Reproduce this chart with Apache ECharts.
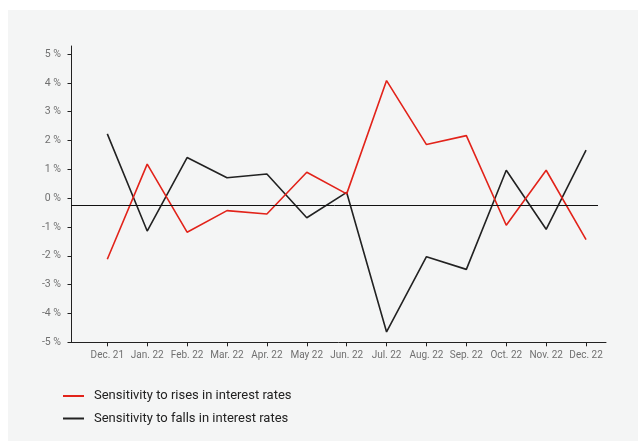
<!DOCTYPE html>
<html>
<head>
<meta charset="utf-8">
<script src="https://cdn.jsdelivr.net/npm/echarts@6/dist/echarts.min.js"></script>
<style>
  html, body { margin: 0; padding: 0; background: #ffffff; }
  #chart { width: 638px; height: 441px; }
</style>
</head>
<body>
<div id="chart"></div>
<script>
// Monthly interest-rate sensitivity, Dec. 21 – Dec. 22 (in %)
const categories = ['Dec. 21', 'Jan. 22', 'Feb. 22', 'Mar. 22', 'Apr. 22', 'May 22', 'Jun. 22',
                    'Jul. 22', 'Aug. 22', 'Sep. 22', 'Oct. 22', 'Nov. 22', 'Dec. 22'];
const risesSensitivity = [-2.12, 1.18, -1.18, -0.43, -0.55, 0.90, 0.15, 4.08, 1.86, 2.17, -0.94, 0.97, -1.44];
const fallsSensitivity = [2.23, -1.14, 1.41, 0.71, 0.84, -0.68, 0.20, -4.64, -2.03, -2.47, 0.97, -1.08, 1.67];
const yTicks = [-5, -4, -3, -2, -1, 0, 1, 2, 3, 4, 5];
const referenceLevel = -0.24;

const xIndex = categories.map((c, i) => i);
const toPoints = arr => arr.map((v, i) => [i, v]);

const chart = echarts.init(document.getElementById('chart'), null, { renderer: 'canvas' });

const FONT = 'Roboto, "Liberation Sans", sans-serif';

chart.setOption({
  animation: false,
  backgroundColor: '#ffffff',
  graphic: [{
    type: 'rect',
    left: 8, top: 10,
    shape: { width: 630, height: 431 },
    style: { fill: '#f4f5f5' },
    z: -10, silent: true
  }],
  grid: { left: 71, right: 32, top: 46, bottom: 98.7, containLabel: false },
  legend: {
    orient: 'vertical',
    left: 63, top: 389,
    padding: 0,
    itemWidth: 21, itemHeight: 2,
    itemGap: 8.5,
    icon: 'rect',
    textStyle: { color: '#222222', fontSize: 13, fontFamily: FONT, lineHeight: 14, padding: [0, 0, 0, 5] },
    data: ['Sensitivity to rises in interest rates', 'Sensitivity to falls in interest rates']
  },
  xAxis: {
    type: 'value',
    min: -0.91, max: 12.5,
    splitLine: { show: false },
    axisLine: { show: true, onZero: false, lineStyle: { color: '#222222', width: 1 } },
    axisTick: { show: true, customValues: xIndex, length: 4, inside: false, lineStyle: { color: '#222222' } },
    axisLabel: {
      customValues: xIndex,
      formatter: v => categories[Math.round(v)] || '',
      color: '#707070', fontSize: 10, fontFamily: FONT, margin: 8
    }
  },
  yAxis: {
    type: 'value',
    min: -5, max: 5.28,
    splitLine: { show: false },
    axisLine: { show: true, onZero: false, lineStyle: { color: '#222222', width: 1 } },
    axisTick: { show: true, customValues: yTicks, length: 3.5, lineStyle: { color: '#222222' } },
    axisLabel: {
      customValues: yTicks,
      formatter: v => v + ' %',
      color: '#707070', fontSize: 10.5, fontFamily: FONT, margin: 10
    }
  },
  series: [
    {
      name: 'Sensitivity to rises in interest rates',
      type: 'line',
      data: toPoints(risesSensitivity),
      symbol: 'none',
      color: '#e2231a',
      lineStyle: { color: '#e2231a', width: 1.6 },
      z: 3
    },
    {
      name: 'Sensitivity to falls in interest rates',
      type: 'line',
      data: toPoints(fallsSensitivity),
      symbol: 'none',
      color: '#222222',
      lineStyle: { color: '#222222', width: 1.6 },
      z: 2,
      markLine: {
        silent: true,
        symbol: 'none',
        label: { show: false },
        lineStyle: { color: '#111111', width: 1, type: 'solid' },
        data: [[{ coord: [-0.91, referenceLevel] }, { coord: [12.3, referenceLevel] }]]
      }
    }
  ]
});
</script>
</body>
</html>
